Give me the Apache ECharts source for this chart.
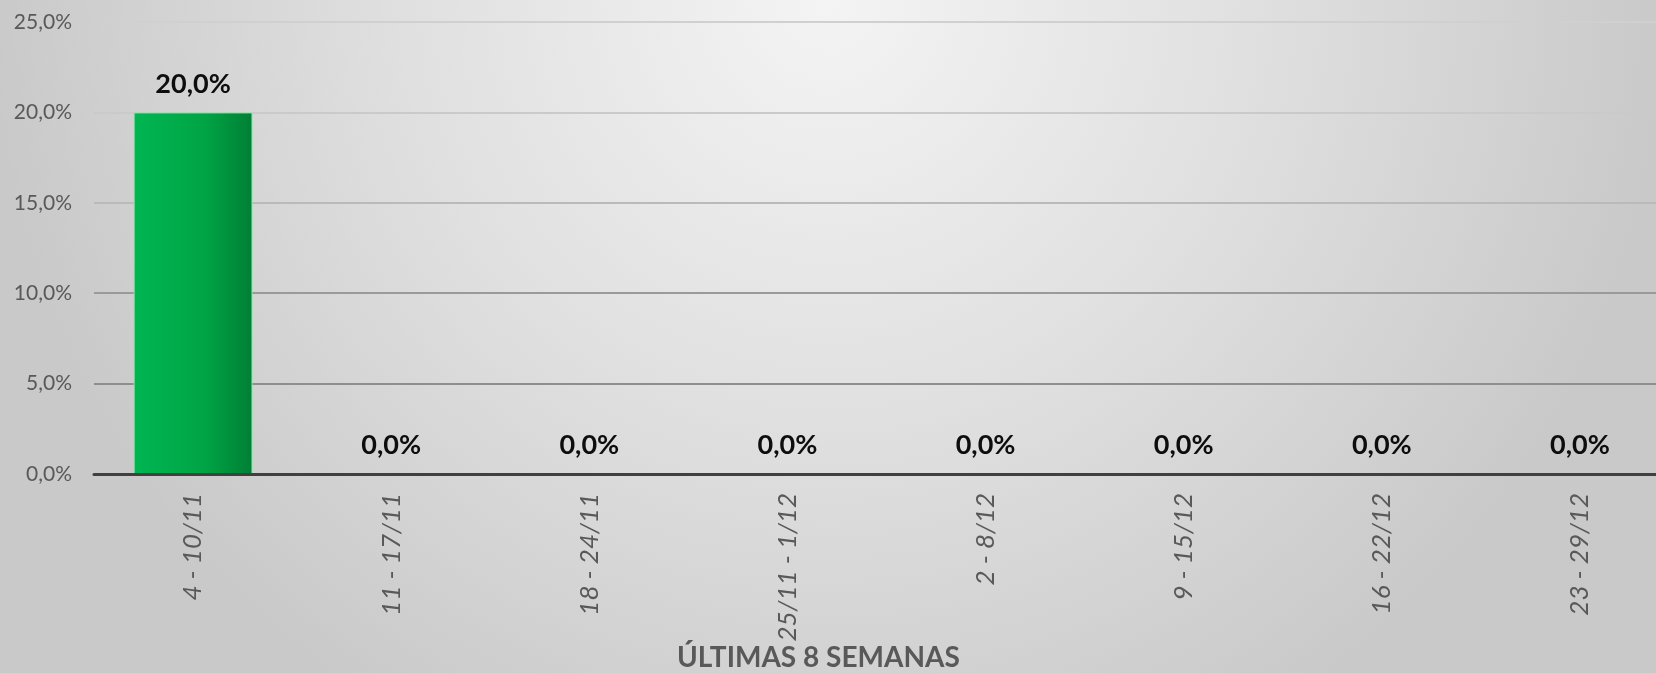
<!DOCTYPE html>
<html>
<head>
<meta charset="utf-8">
<script src="https://cdn.jsdelivr.net/npm/echarts@6/dist/echarts.min.js"></script>
<style>
html,body{margin:0;padding:0;overflow:hidden;}
#chart{width:1656px;height:673px;}
</style>
</head>
<body>
<div id="chart"></div>
<script>
var categories = ['4 - 10/11', '11 - 17/11', '18 - 24/11', '25/11 - 1/12', '2 - 8/12', '9 - 15/12', '16 - 22/12', '23 - 29/12'];
var values = [20.0, 0.0, 0.0, 0.0, 0.0, 0.0, 0.0, 0.0];
var axisTitle = 'ÚLTIMAS 8 SEMANAS';
var yTicks = [0, 5, 10, 15, 20, 25];

var chart = echarts.init(document.getElementById('chart'));
var fontFam = 'Lato, "Open Sans", sans-serif';
function pct(v){ return v.toFixed(1).replace('.', ',') + '%'; }

var barData = values.map(function(v){
  return {value: v, itemStyle: {borderWidth: v > 0 ? 1 : 0}};
});

chart.setOption({
  backgroundColor: {
    type: 'radial', x: 0.5, y: 0.0, r: 1.25,
    colorStops: [
      {offset: 0, color: '#f4f4f4'},
      {offset: 0.5, color: '#e0e0e0'},
      {offset: 1, color: '#c9c9c9'}
    ]
  },
  animation: false,
  grid: {left: 94, top: 22, bottom: 199, width: 1585, containLabel: false, outerBoundsMode: 'none'},
  xAxis: {
    type: 'category',
    data: categories,
    z: 5,
    axisLine: {lineStyle: {color: '#404040', width: 3}},
    axisTick: {show: false},
    axisLabel: {
      rotate: 90, interval: 0, margin: 19,
      fontFamily: fontFam, fontStyle: 'italic', fontSize: 26, color: '#595959'
    }
  },
  yAxis: {
    type: 'value', min: yTicks[0], max: yTicks[yTicks.length - 1], interval: 5,
    axisLine: {show: false}, axisTick: {show: false},
    axisLabel: {
      margin: 22, fontFamily: fontFam, fontSize: 21, color: '#595959',
      formatter: function(v){ return pct(v); }
    },
    splitLine: {lineStyle: {width: 2, color: ['#404040', '#8e8e8e', '#9a9a9a', '#bababa', '#cacaca', '#d0d0d0']}}
  },
  series: [{
    type: 'bar',
    data: barData,
    barWidth: '60%',
    itemStyle: {
      borderColor: '#8fe8aa',
      color: {
        type: 'linear', x: 0, y: 0, x2: 1, y2: 0,
        colorStops: [
          {offset: 0, color: '#00b652'},
          {offset: 0.6, color: '#00a445'},
          {offset: 1, color: '#007f35'}
        ]
      }
    },
    label: {
      show: true, position: 'top', distance: 15,
      fontFamily: fontFam, fontWeight: 'bold', fontSize: 27, color: '#0d0d0d',
      formatter: function(p){ return pct(p.value); }
    }
  }],
  graphic: [{
    type: 'text', left: 817 - 140, top: 644,
    style: {text: axisTitle, fontFamily: fontFam, fontWeight: 'bold', fontSize: 28, fill: '#595959'}
  }]
});
</script>
</body>
</html>
